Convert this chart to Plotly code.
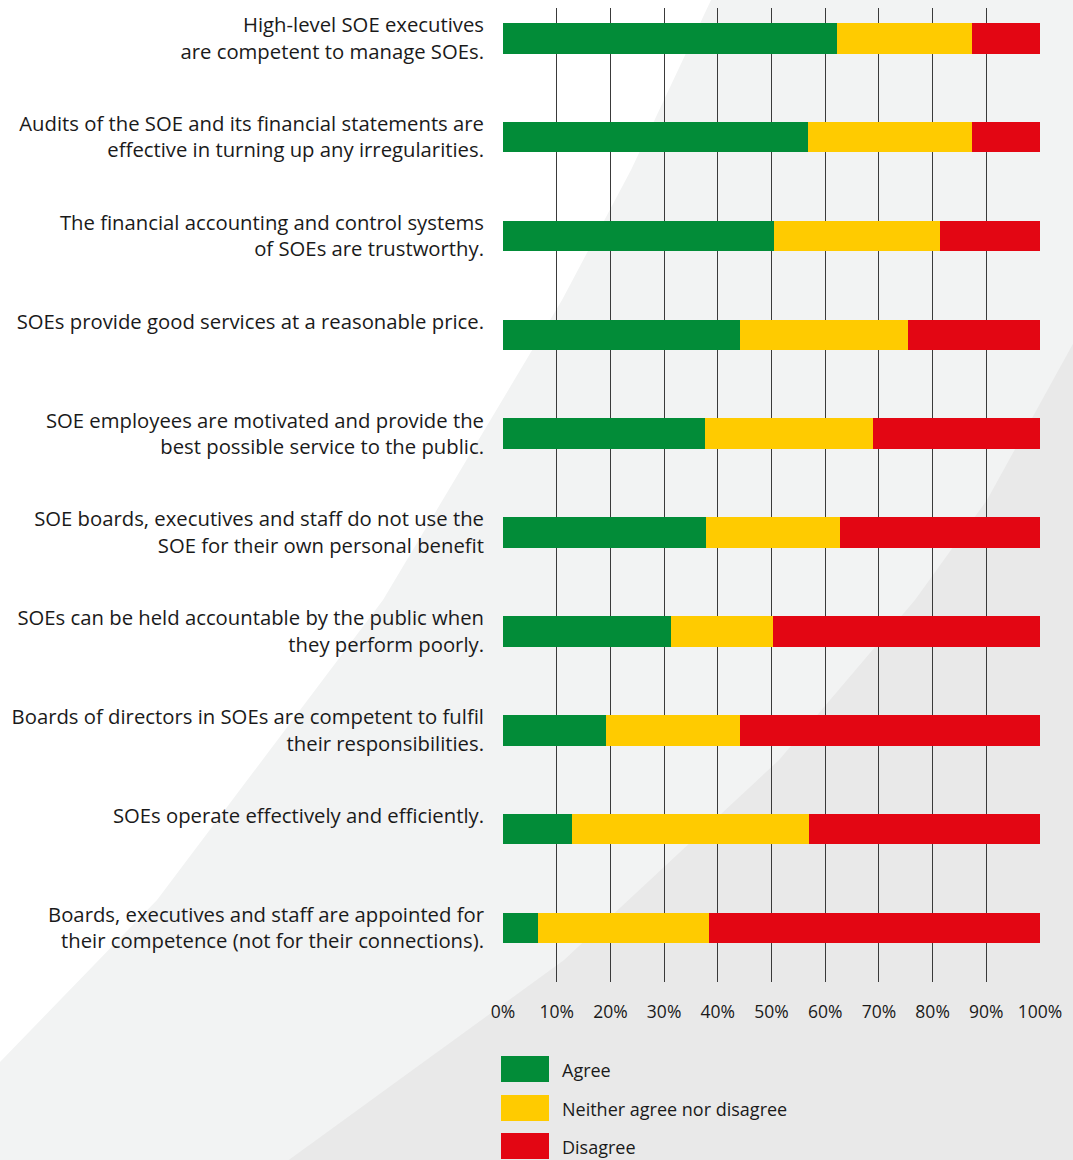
import plotly.graph_objects as go

# Survey statements, top to bottom (single-line ones keep an empty second line)
statements = [
    "High-level SOE executives<br>are competent to manage SOEs.",
    "Audits of the SOE and its financial statements are<br>effective in turning up any irregularities.",
    "The financial accounting and control systems<br>of SOEs are trustworthy.",
    "SOEs provide good services at a reasonable price.<br>\u00a0",
    "SOE employees are motivated and provide the<br>best possible service to the public.",
    "SOE boards, executives and staff do not use the<br>SOE for their own personal benefit",
    "SOEs can be held accountable by the public when<br>they perform poorly.",
    "Boards of directors in SOEs are competent to fulfil<br>their responsibilities.",
    "SOEs operate effectively and efficiently.<br>\u00a0",
    "Boards, executives and staff are appointed for<br>their competence (not for their connections).",
]

# Share of respondents (%)
agree = [62.2, 56.8, 50.5, 44.1, 37.6, 37.8, 31.3, 19.2, 12.9, 6.5]
neither = [25.2, 30.6, 30.9, 31.3, 31.3, 24.9, 19.0, 24.9, 44.1, 31.9]
disagree = [12.6, 12.6, 18.6, 24.6, 31.1, 37.3, 49.7, 55.9, 43.0, 61.6]

series_names = ["Agree", "Neither agree nor disagree", "Disagree"]
series_colors = ["#028C38", "#FFCB00", "#E30613"]

tick_vals = [0, 10, 20, 30, 40, 50, 60, 70, 80, 90, 100]
tick_text = ["0%", "10%", "20%", "30%", "40%", "50%", "60%", "70%", "80%", "90%", "100%"]

FONT = "'Open Sans', Lato, sans-serif"
TEXT = "#1a1a1a"
W, H = 1073, 1160
ML, MR, MT, MB = 503, 33, 8, 178
PW, PH = W - ML - MR, H - MT - MB

fig = go.Figure()
for name, vals, col in zip(series_names, [agree, neither, disagree], series_colors):
    fig.add_trace(go.Bar(
        y=statements, x=vals, name=name, orientation="h",
        marker=dict(color=col, line=dict(width=0)),
        width=0.31, showlegend=False,
    ))


def px(x, y):
    """Convert page pixels to paper coordinates."""
    return (x - ML) / PW, 1 - (y - MT) / PH


def path(points):
    pts = [px(x, y) for x, y in points]
    return "M " + " L ".join(f"{a:.4f},{b:.4f}" for a, b in pts) + " Z"


# Decorative background swooshes
light_area = [(712, -2), (631, 170), (562, 300), (383, 600), (157, 900), (0, 1062),
              (0, 1162), (1075, 1162), (1075, -2)]
dark_area = [(1075, 340), (987, 500), (915, 600), (779, 760), (564, 960), (286, 1162),
             (1075, 1162)]
shapes = [
    dict(type="path", xref="paper", yref="paper", path=path(light_area),
         fillcolor="#f2f3f3", line=dict(width=0), layer="below"),
    dict(type="path", xref="paper", yref="paper", path=path(dark_area),
         fillcolor="#e9e9e9", line=dict(width=0), layer="below"),
]

# Legend drawn as swatches with labels below the axis
annotations = []
legend_top = [1056, 1095, 1133]
for name, col, top in zip(series_names, series_colors, legend_top):
    x0, y0 = px(501, top)
    x1, y1 = px(549, top + 26)
    shapes.append(dict(type="rect", xref="paper", yref="paper", x0=x0, x1=x1, y0=y1, y1=y0,
                       fillcolor=col, line=dict(width=0)))
    tx, ty = px(560, top + 14)
    annotations.append(dict(xref="paper", yref="paper", x=tx, y=ty, text=name,
                            showarrow=False, xanchor="left", yanchor="middle",
                            font=dict(family=FONT, size=18, color=TEXT)))

fig.update_layout(
    width=W, height=H,
    margin=dict(l=ML, r=MR, t=MT, b=MB),
    barmode="stack",
    paper_bgcolor="#ffffff",
    plot_bgcolor="rgba(0,0,0,0)",
    font=dict(family=FONT, size=19, color=TEXT),
    shapes=shapes,
    annotations=annotations,
    xaxis=dict(
        range=[0, 100], tickvals=tick_vals, ticktext=tick_text,
        showgrid=True, gridcolor="#3a3a3a", gridwidth=1.4,
        zeroline=False, showline=False, ticks="",
        tickfont=dict(family=FONT, size=17.5, color=TEXT),
        ticklabelstandoff=17, fixedrange=True,
    ),
    yaxis=dict(
        categoryorder="array", categoryarray=statements,
        range=[9.546, -0.306],
        showgrid=False, zeroline=False, showline=False, ticks="",
        tickfont=dict(family=FONT, size=20.3, color=TEXT),
        ticklabelstandoff=18, fixedrange=True,
    ),
)

fig.write_html("out.html")
